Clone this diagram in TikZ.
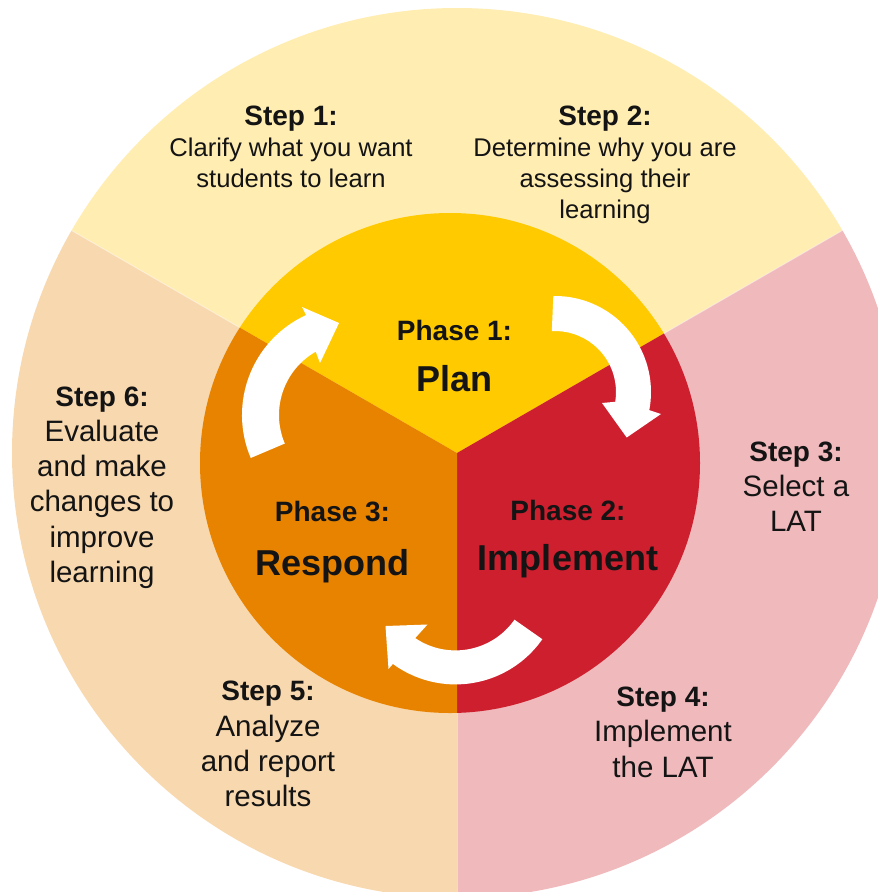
\documentclass[tikz,border=0pt]{standalone}
\usepackage{fontspec}
\setmainfont{Liberation Sans}
\usetikzlibrary{calc}
\definecolor{oyel}{RGB}{255,237,178}
\definecolor{opea}{RGB}{248,216,174}
\definecolor{opin}{RGB}{240,185,188}
\definecolor{iyel}{RGB}{255,202,0}
\definecolor{ired}{RGB}{206,31,46}
\definecolor{iora}{RGB}{232,131,0}
\definecolor{txt}{RGB}{20,20,20}
\begin{document}
\begin{tikzpicture}[x=1pt,y=1pt,
  lab/.style={font=\bfseries\fontsize{28}{33}\selectfont, anchor=base, inner sep=0pt, text=txt},
  bodyA/.style={font=\fontsize{25.6}{31}\selectfont, anchor=base, inner sep=0pt, text=txt},
  bodyB/.style={font=\fontsize{29.5}{35}\selectfont, anchor=base, inner sep=0pt, text=txt},
  phl/.style={font=\bfseries\fontsize{28}{33}\selectfont, anchor=base, inner sep=0pt, text=txt},
  phn/.style={font=\bfseries\fontsize{36}{40}\selectfont, anchor=base, inner sep=0pt, text=txt},
  arrowshape/.style={fill=white},
  divider/.style={draw=white, draw opacity=0.4, line width=1pt}]
\useasboundingbox (0,0) rectangle (878,-892);
\clip (0,0) rectangle (878,-892);
\coordinate (C) at (457,-453);
\coordinate (I) at (450,-463);
\coordinate (O1) at (352,-415);
\coordinate (O2) at (555,-392);
\coordinate (O3) at (455.5,-578.4);
% outer ring
\begin{scope}
  \clip (C) circle (445);
  \fill[oyel] (C) -- ($(C)+(30:1300)$) -- ($(C)+(90:1500)$) -- ($(C)+(150:1300)$) -- cycle;
  \fill[opin] (C) -- ($(C)+(30:1300)$) -- ($(C)+(-30:1500)$) -- ($(C)+(-90:1300)$) -- cycle;
  \fill[opea] (C) -- ($(C)+(150:1300)$) -- ($(C)+(210:1500)$) -- ($(C)+(270:1300)$) -- cycle;
  \draw[divider] (C) -- ($(C)+(30:500)$);
  \draw[divider] (C) -- ($(C)+(150:500)$);
  \draw[divider] (C) -- ($(C)+(270:500)$);
\end{scope}
% inner disc
\begin{scope}
  \clip (I) circle (250);
  \fill[iyel] (C) -- ($(C)+(30:1300)$) -- ($(C)+(90:1500)$) -- ($(C)+(150:1300)$) -- cycle;
  \fill[ired] (C) -- ($(C)+(30:1300)$) -- ($(C)+(-30:1500)$) -- ($(C)+(-90:1300)$) -- cycle;
  \fill[iora] (C) -- ($(C)+(150:1300)$) -- ($(C)+(210:1500)$) -- ($(C)+(270:1300)$) -- cycle;
\end{scope}
% cycle arrows
\fill[arrowshape] ($(O1)+(203:110)$) arc[start angle=203, end angle=114.7, radius=110]
  -- (302,-307) -- (339,-323) -- (320,-363)
  -- ($(O1)+(119.8:73)$) arc[start angle=119.8, end angle=203, radius=73] -- cycle;
\fill[arrowshape] ($(O2)+(91:96)$) arc[start angle=91, end angle=-10.9, radius=96]
  -- (661,-414) -- (626.7,-437.5) -- (602,-403)
  -- ($(O2)+(-9.2:61)$) arc[start angle=-9.2, end angle=93, radius=61] -- cycle;
\fill[arrowshape] ($(O3)+(-35:106)$) arc[start angle=-35, end angle=-126.2, radius=106]
  -- (388.5,-669) -- (385.5,-626) -- (427.5,-624.5)
  -- ($(O3)+(-124:72)$) arc[start angle=-124, end angle=-35, radius=72] -- cycle;
% phases
\node[phl] (p1) at (454.5,-340) {Phase 1:};
\node[phn] (p1n) at (454.5,-391) {Plan};
\node[phl] (p2) at (568,-520) {Phase 2:};
\node[phn] (p2n) at (568,-570) {Implement};
\node[phl] (p3) at (332.5,-521.7) {Phase 3:};
\node[phn] (p3n) at (332.5,-575) {Respond};
% steps
\node[lab] (s1) at (291,-125) {Step 1:};
\node[bodyA] (s1a) at (291,-156) {Clarify what you want};
\node[bodyA] (s1b) at (291,-187) {students to learn};
\node[lab] (s2) at (605,-125) {Step 2:};
\node[bodyA] (s2a) at (605,-156) {Determine why you are};
\node[bodyA] (s2b) at (605,-187) {assessing their};
\node[bodyA] (s2c) at (605,-218) {learning};
\node[lab] (s3) at (796,-461.7) {Step 3:};
\node[bodyB] (s3a) at (796,-496.7) {Select a};
\node[bodyB] (s3b) at (796,-531.7) {LAT};
\node[lab] (s4) at (663,-706.7) {Step 4:};
\node[bodyB] (s4a) at (663,-741.7) {Implement};
\node[bodyB] (s4b) at (663,-777) {the LAT};
\node[lab] (s5) at (268,-700) {Step 5:};
\node[bodyB] (s5a) at (268,-736) {Analyze};
\node[bodyB] (s5b) at (268,-771) {and report};
\node[bodyB] (s5c) at (268,-806) {results};
\node[lab] (s6) at (102,-406.7) {Step 6:};
\node[bodyB] (s6a) at (102,-441.7) {Evaluate};
\node[bodyB] (s6b) at (102,-476.7) {and make};
\node[bodyB] (s6c) at (102,-511.7) {changes to};
\node[bodyB] (s6d) at (102,-547) {improve};
\node[bodyB] (s6e) at (102,-582) {learning};
\end{tikzpicture}
\end{document}
